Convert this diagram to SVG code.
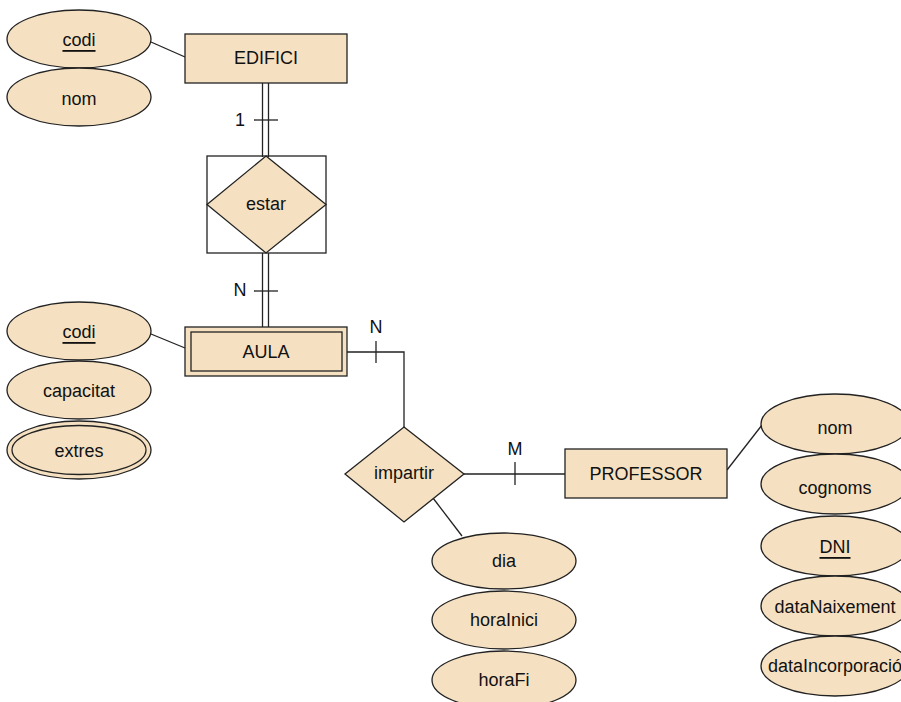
<svg xmlns="http://www.w3.org/2000/svg" width="901" height="702" viewBox="0 0 901 702">
  <style>
    .shape { fill: #f5e1c1; stroke: #222; stroke-width: 1.3; }
    .line { fill: none; stroke: #222; stroke-width: 1.3; }
    .box { fill: none; stroke: #222; stroke-width: 1.3; }
    text { font-family: "Liberation Sans", Arial, sans-serif; font-size: 18px; fill: #111; text-anchor: middle; dominant-baseline: central; }
    .u { text-decoration: underline; }
  </style>
  <rect width="901" height="702" fill="#ffffff"/>

  <!-- connectors -->
  <g id="connectors">
    <!-- attribute links -->
    <line class="line" x1="151" y1="42" x2="185" y2="57"/>
    <line class="line" x1="151" y1="334" x2="185" y2="348"/>
    <line class="line" x1="727" y1="470" x2="762" y2="425"/>
    <line class="line" x1="433" y1="498" x2="462" y2="536"/>
    <!-- EDIFICI - estar (double) -->
    <line class="line" x1="262.5" y1="83" x2="262.5" y2="157"/>
    <line class="line" x1="268.5" y1="83" x2="268.5" y2="157"/>
    <line class="line" x1="254" y1="120" x2="278" y2="120"/>
    <!-- estar - AULA (double) -->
    <line class="line" x1="262.5" y1="253" x2="262.5" y2="327"/>
    <line class="line" x1="268.5" y1="253" x2="268.5" y2="327"/>
    <line class="line" x1="254" y1="291" x2="278" y2="291"/>
    <!-- AULA - impartir -->
    <polyline class="line" points="347,352 404,352 404,427"/>
    <line class="line" x1="376" y1="341" x2="376" y2="363"/>
    <!-- impartir - PROFESSOR -->
    <line class="line" x1="464" y1="474" x2="565" y2="474"/>
    <line class="line" x1="515" y1="462" x2="515" y2="485"/>
    <text x="240" y="120">1</text>
    <text x="240" y="290">N</text>
    <text x="376" y="327">N</text>
    <text x="515" y="449">M</text>
  </g>

  <!-- entities -->
  <g id="edifici">
    <rect class="shape" x="185" y="34" width="162" height="49"/>
    <text x="266" y="58">EDIFICI</text>
  </g>
  <g id="aula">
    <rect class="shape" x="185" y="327" width="162" height="49"/>
    <rect class="box" x="191" y="332" width="151" height="39"/>
    <text x="266" y="352">AULA</text>
  </g>
  <g id="professor">
    <rect class="shape" x="565" y="449" width="162" height="49"/>
    <text x="646" y="474">PROFESSOR</text>
  </g>

  <!-- relationships -->
  <g id="estar">
    <rect class="box" x="207" y="156" width="119" height="97"/>
    <polygon class="shape" points="266,156 326,204.5 266,253 207,204.5"/>
    <text x="266" y="204">estar</text>
  </g>
  <g id="impartir">
    <polygon class="shape" points="404,427 464,474 404,522 345,474"/>
    <text x="404" y="473">impartir</text>
  </g>

  <!-- EDIFICI attributes -->
  <g id="edifici-codi">
    <ellipse class="shape" cx="79" cy="39" rx="72" ry="29"/>
    <text class="u" x="79" y="40">codi</text>
  </g>
  <g id="edifici-nom">
    <ellipse class="shape" cx="79" cy="97" rx="72" ry="29"/>
    <text x="79" y="99">nom</text>
  </g>

  <!-- AULA attributes -->
  <g id="aula-codi">
    <ellipse class="shape" cx="79" cy="331" rx="72" ry="29"/>
    <text class="u" x="79" y="332">codi</text>
  </g>
  <g id="aula-capacitat">
    <ellipse class="shape" cx="79" cy="390" rx="72" ry="29"/>
    <text x="79" y="391">capacitat</text>
  </g>
  <g id="aula-extres">
    <ellipse class="shape" cx="79" cy="450" rx="72" ry="29"/>
    <ellipse class="box" cx="79" cy="450" rx="67" ry="24.5"/>
    <text x="79" y="451">extres</text>
  </g>

  <!-- impartir attributes -->
  <g id="impartir-dia">
    <ellipse class="shape" cx="504" cy="561" rx="72" ry="28"/>
    <text x="504" y="561">dia</text>
  </g>
  <g id="impartir-horaInici">
    <ellipse class="shape" cx="504" cy="620" rx="72" ry="29"/>
    <text x="504" y="620">horaInici</text>
  </g>
  <g id="impartir-horaFi">
    <ellipse class="shape" cx="504" cy="680" rx="72" ry="29"/>
    <text x="504" y="680">horaFi</text>
  </g>

  <!-- PROFESSOR attributes -->
  <g id="professor-nom">
    <ellipse class="shape" cx="835" cy="424" rx="74" ry="30"/>
    <text x="835" y="428">nom</text>
  </g>
  <g id="professor-cognoms">
    <ellipse class="shape" cx="835" cy="484" rx="74" ry="30"/>
    <text x="835" y="488">cognoms</text>
  </g>
  <g id="professor-dni">
    <ellipse class="shape" cx="835" cy="546" rx="74" ry="30"/>
    <text class="u" x="835" y="547">DNI</text>
  </g>
  <g id="professor-dataNaixement">
    <ellipse class="shape" cx="835" cy="606" rx="74" ry="30"/>
    <text x="835" y="607">dataNaixement</text>
  </g>
  <g id="professor-dataIncorporacio">
    <ellipse class="shape" cx="835" cy="666" rx="74" ry="30"/>
    <text x="835" y="666">dataIncorporació</text>
  </g>
</svg>
